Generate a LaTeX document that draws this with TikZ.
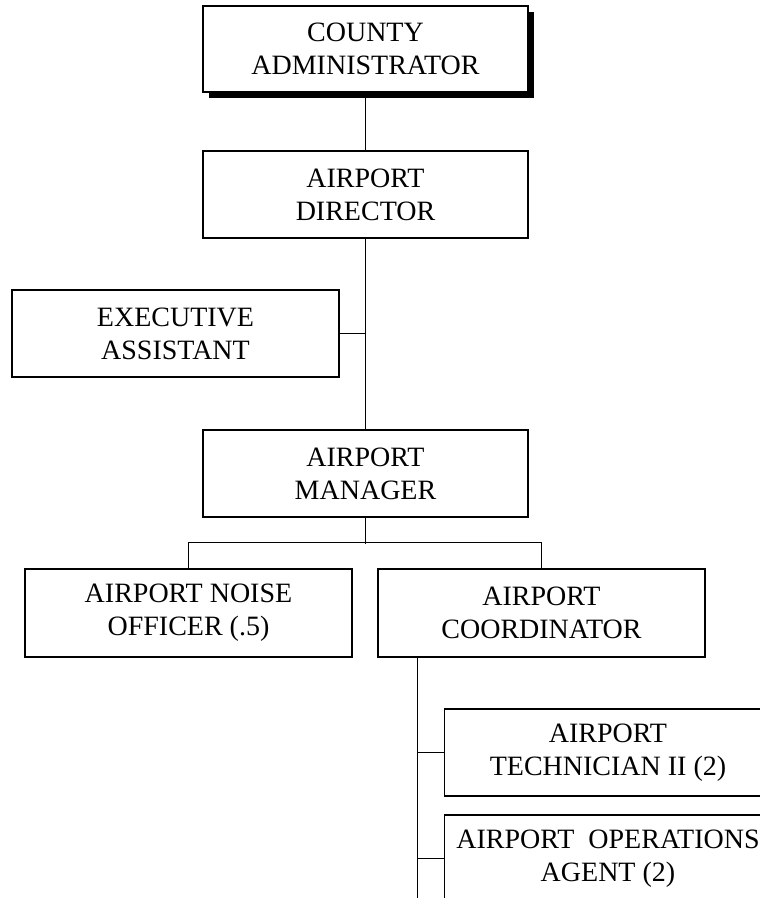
\documentclass[tikz,border=0pt]{standalone}
\usepackage{fontspec}
\setmainfont{Liberation Serif}
\usetikzlibrary{shadows,calc}

\tikzset{
  orgbox/.style={draw=black, line width=1.3pt, fill=white, rectangle,
    minimum width=327pt, minimum height=87pt, inner sep=0pt, align=center,
    font=\fontsize{28}{33}\selectfont},
  topbox/.style={orgbox, minimum width=325pt, minimum height=86pt,
    drop shadow={shadow xshift=6pt, shadow yshift=-6pt, fill=black, opacity=1}},
  link/.style={draw=black, line width=1.5pt}
}

\begin{document}
\begin{tikzpicture}[x=1pt, y=-1pt]
  \clip (0,0) rectangle (760,898);
  \fill[white] (0,0) rectangle (760,898);

  % boxes
  \node[topbox] (county)   at (365.5, 49)    {COUNTY\\ADMINISTRATOR};
  \node[orgbox, minimum width=325pt] (director) at (365.5, 194.5) {AIRPORT\\DIRECTOR};
  \node[orgbox] (exec)     at (175.5, 333.5) {EXECUTIVE\\ASSISTANT};
  \node[orgbox, minimum width=325pt] (manager)  at (365.5, 473.5) {AIRPORT\\MANAGER};
  \node[orgbox, minimum height=88pt] (noise)    at (188.5, 613)   {AIRPORT NOISE\\OFFICER (.5)};
  \node[orgbox, minimum height=88pt] (coord)    at (541.5, 613)   {AIRPORT\\COORDINATOR};
  \node[orgbox] (tech)     at (608, 752.5)   {AIRPORT\\TECHNICIAN II (2)};
  \node[orgbox] (ops)      at (608, 858.5)   {AIRPORT\ \ OPERATIONS\\AGENT (2)};

  % reporting lines
  \draw[link] (county.south) -- (director.north);
  \draw[link] (director.south) -- (manager.north);
  \draw[link] (exec.east) -- (exec.east -| director.south);

  \coordinate (branch) at ($(manager.south)+(0,26)$);
  \draw[link] (manager.south) -- (branch);
  \draw[link] (noise.north) -- ++(0,-26) -| (coord.north);

  \coordinate (trunk) at ($(coord.south west)+(40,0)$);
  \coordinate (trunkend) at (trunk |- 0,905);
  \draw[link] (trunk) -- (trunkend);
  \draw[link] (tech.west) -- (tech.west -| trunk);
  \draw[link] (ops.west) -- (ops.west -| trunk);
\end{tikzpicture}
\end{document}
